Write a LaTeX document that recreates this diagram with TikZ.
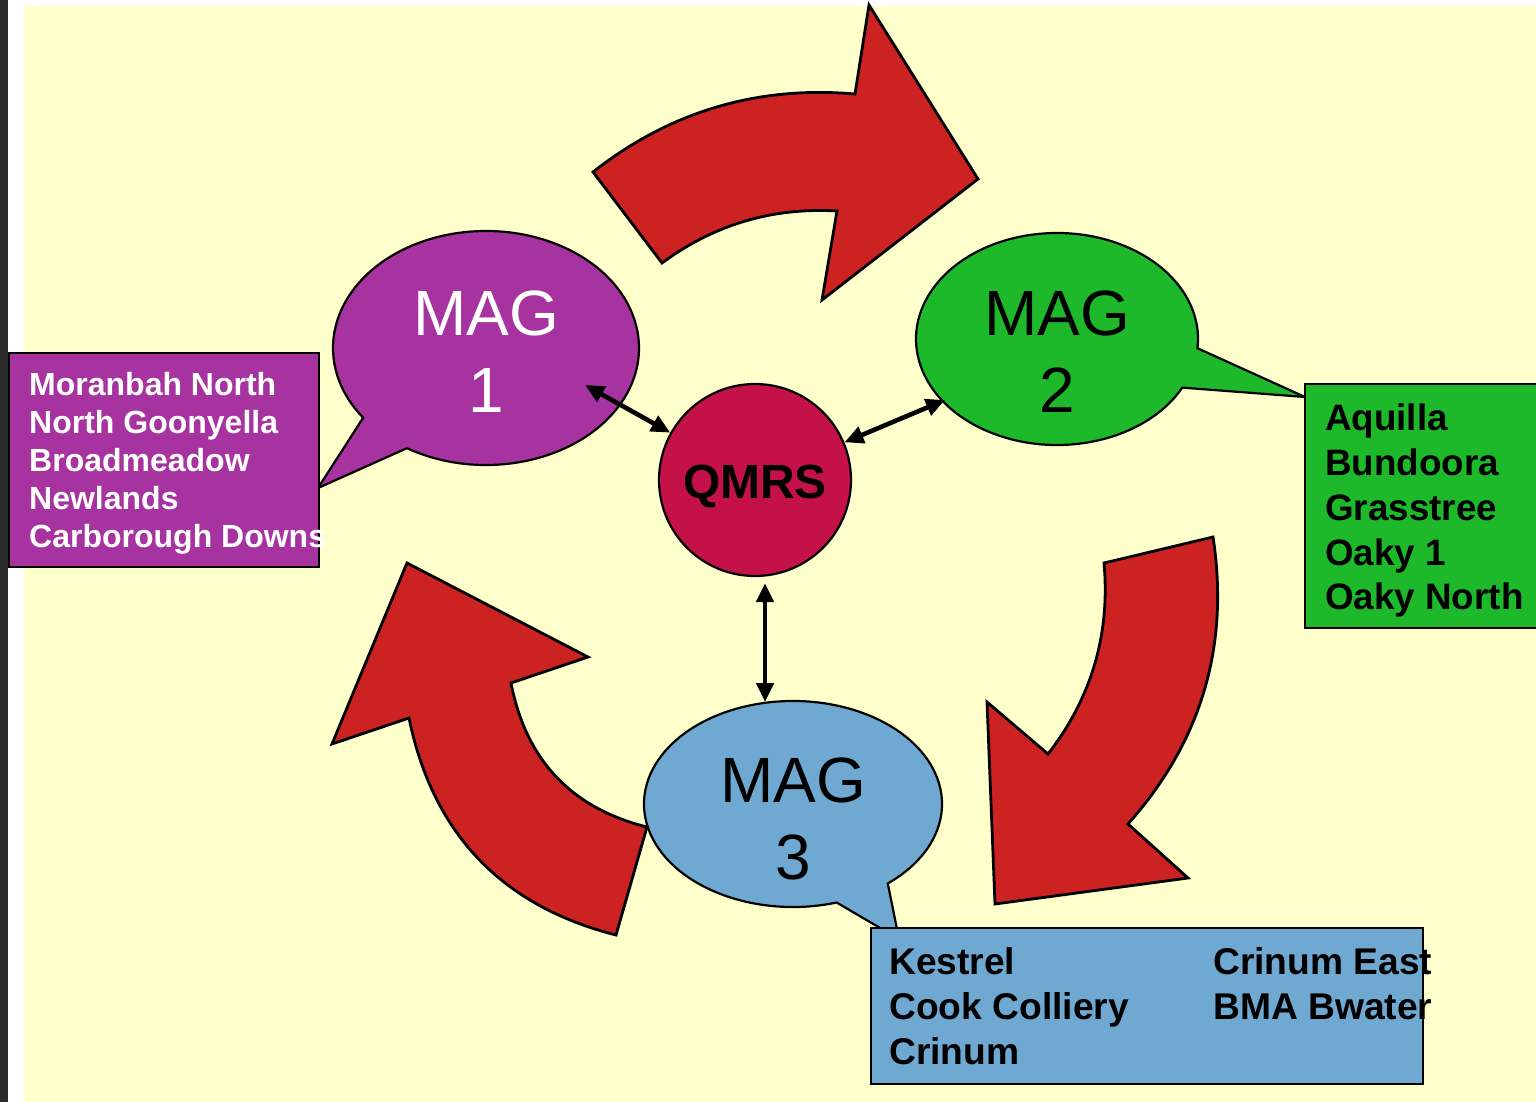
\documentclass[tikz,border=0pt]{standalone}
\usepackage{fontspec}
\setmainfont{Liberation Sans}
\usetikzlibrary{arrows.meta,calc,shapes.geometric}
\definecolor{bgyellow}{HTML}{FFFFCC}
\definecolor{framedark}{HTML}{2B2B2B}
\definecolor{magpurple}{HTML}{A6339F}
\definecolor{maggreen}{HTML}{1DB92A}
\definecolor{magblue}{HTML}{6FA9D2}
\definecolor{arrowred}{HTML}{CC2222}
\definecolor{qmrsred}{HTML}{C41249}
\begin{document}
\begin{tikzpicture}[x=1pt,y=-1pt,
  redarrow/.style={fill=arrowred,draw=black,line width=2.8pt,line join=miter},
  callout/.style={draw=black,line width=2.2pt,line join=miter},
  listbox/.style={draw=black,line width=2.6pt,rectangle,inner sep=0pt},
  magtext/.style={align=center,inner sep=0pt,font=\fontsize{64}{77}\selectfont},
  listtext/.style={align=left,inner sep=0pt,anchor=north west},
  dbl/.style={line width=4.6pt,{Triangle[length=19pt,width=17pt]}-{Triangle[length=19pt,width=17pt]}}
]
\useasboundingbox (0,0) rectangle (1536,1102);
% background
\fill[white] (0,0) rectangle (1536,1102);
\fill[framedark] (0,0) rectangle (8,1102);
\fill[bgyellow] (24,6) rectangle (1536,1102);

% red cycle arrows
\path[redarrow] (593,172) -- (662,263)
  .. controls (714,224.6) and (772.4,207.2) .. (837,211)
  -- (822,300) -- (978,179) -- (869,5) -- (855,94)
  .. controls (757.4,85.5) and (670,111.5) .. (593,172) -- cycle;
\path[redarrow] (1104,563) -- (1213,537)
  .. controls (1229.7,646) and (1201.3,741.6) .. (1128,824)
  -- (1188,878) -- (995,904) -- (987,702) -- (1048,754)
  .. controls (1091.7,697.6) and (1110.3,634) .. (1104,563) -- cycle;
\path[redarrow] (647,827) -- (616,935)
  .. controls (501.7,906) and (432.7,833.6) .. (409,718)
  -- (332,744) -- (407,563) -- (588,657) -- (511,683)
  .. controls (526,760) and (571,808) .. (647,827) -- cycle;

% speech-bubble ellipses
\path[callout,fill=magpurple] ($(486,348)+(143.4:153 and 117)$) -- (318,488)
  -- ($(486,348)+(121.1:153 and 117)$)
  arc[start angle=121.1,end angle=-216.6,x radius=153,y radius=117] -- cycle;
\path[callout,fill=maggreen] ($(1057,339)+(5:141 and 106)$) -- (1305,397)
  -- ($(1057,339)+(27.3:141 and 106)$)
  arc[start angle=27.3,end angle=365,x radius=141,y radius=106] -- cycle;
\path[callout,fill=magblue] ($(793,804)+(50.5:149 and 103)$) -- (899,939)
  -- ($(793,804)+(73:149 and 103)$)
  arc[start angle=73,end angle=410.5,x radius=149,y radius=103] -- cycle;

\node[magtext,text=white] (mag1) at (486,352) {MAG\\1};
\node[magtext,text=black] (mag2) at (1057,352) {MAG\\2};
\node[magtext,text=black] (mag3) at (793,819) {MAG\\3};

% list boxes
\node[listbox,fill=magpurple,minimum width=310pt,minimum height=214pt] (box1) at (164,460) {};
\node[listbox,fill=maggreen,minimum width=240pt,minimum height=244pt] (box2) at (1425,506) {};
\node[listbox,fill=magblue,minimum width=552pt,minimum height=156pt] (box3) at (1147,1006) {};

\node[listtext,text=white,font=\bfseries\fontsize{32}{38}\selectfont] (list1) at (29,372)
  {Moranbah North\\North Goonyella\\Broadmeadow\\Newlands\\Carborough Downs};
\node[listtext,text=black,font=\bfseries\fontsize{36.8}{44.75}\selectfont] (list2) at (1325,404)
  {Aquilla\\Bundoora\\Grasstree\\Oaky 1\\Oaky North};
\node[listtext,text=black,font=\bfseries\fontsize{37.2}{45}\selectfont] (list3a) at (889,947)
  {Kestrel\\Cook Colliery\\Crinum};
\node[listtext,text=black,font=\bfseries\fontsize{37.2}{45}\selectfont] (list3b) at (1213,947)
  {Crinum East\\BMA Bwater};

% centre
\node[circle,draw=black,line width=2.2pt,fill=qmrsred,minimum size=192pt,inner sep=0pt] (qmrs) at (755,480) {};
\node[anchor=base,inner sep=0pt,font=\bfseries\fontsize{48}{56}\selectfont] (qmrslabel) at (755,498) {QMRS};

% connectors
\coordinate (m1end) at (585,385);
\coordinate (m2end) at (945,400);
\coordinate (m3end) at (765,702);
\draw[dbl] (m1end) -- (qmrs);
\draw[dbl] (m2end) -- (qmrs);
\draw[dbl] ([xshift=10pt,yshift=-6pt]qmrs.south) -- (m3end);
\end{tikzpicture}
\end{document}
